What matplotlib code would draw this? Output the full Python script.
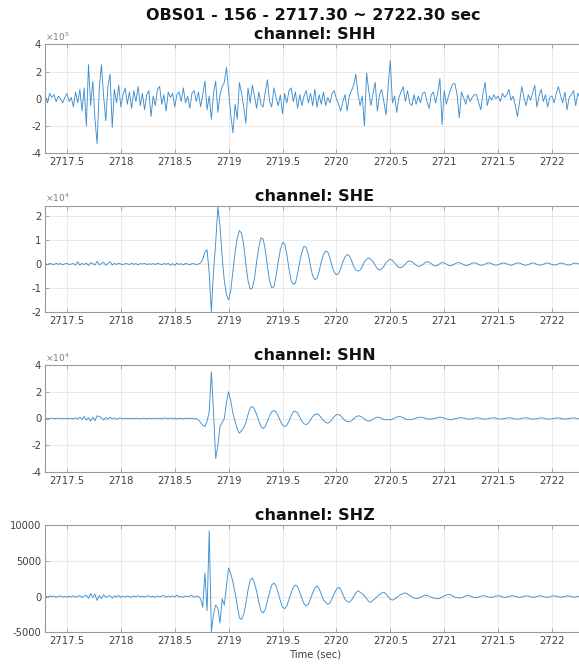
import numpy as np
import matplotlib
matplotlib.use("Agg")
import matplotlib.pyplot as plt

# ---------------- data ----------------
t_start = 2717.30
t_end = 2722.30
dt = 0.02

suptitle = "OBS01 - 156 - 2717.30 ~ 2722.30 sec"
channels = ["SHH", "SHE", "SHN", "SHZ"]

# SHH, units of 1e5
shh = [
    0.2, -0.3, 0.4, 0.1, 0.3, -0.2, 0.2, 0.0, -0.3, 0.1,
    0.4, -0.2, 0.1, -0.6, 0.5, -0.3, 0.7, -0.9, 0.8, -2.0,
    2.5, -0.5, 1.3, -1.5, -3.3, 0.8, 2.5, 0.2, -1.6, 0.9,
    1.8, -2.1, 0.7, -0.3, 1.0, -0.6, 0.3, 0.8, -0.4, 0.5,
    -0.7, 0.6, -0.2, 0.9, -0.5, 0.4, -0.8, 0.3, 0.6, -1.3,
    0.2, -0.5, 0.7, 0.9, -0.4, 0.3, -0.9, 0.5, 0.1, 0.4,
    -0.6, 0.3, 0.5, -0.2, 0.8, -0.3, 0.2, -0.7, 0.4, 0.6,
    -0.2, 0.5, -0.6, 0.3, 1.3, -0.8, 0.2, -1.5, 0.4, 1.3,
    -1.0, 0.3, 0.9, 1.2, 2.3, 0.6, -1.2, -2.5, -0.4, -1.5,
    1.2, 0.4, -0.6, -1.8, 0.8, -0.3, 1.0, 0.2, -0.7, 0.5,
    -0.4, -0.6, 0.5, 1.4, -0.2, -0.6, 0.8, 0.1, -0.5, 0.3,
    -1.1, 0.4, -0.3, 0.6, 0.8, -0.2, 0.5, -0.7, 0.3, -0.5,
    0.2, 0.6, -0.3, 0.4, -0.5, 0.7, -0.6, 0.3, -0.4, 0.5,
    -0.5, 0.1, -0.3, 0.4, 0.6, 0.0, -0.4, -0.9, -0.2, 0.3,
    -0.9, 0.2, 0.6, 1.0, 1.8, 0.4, -0.5, 0.2, -2.0, 1.9,
    0.6, -0.5, 0.4, 1.2, -0.9, 0.3, 0.7, -0.2, -1.2, 0.9,
    2.8, -0.3, 0.2, -1.0, 0.1, 0.5, 0.9, -0.2, 0.6, -0.3,
    -0.5, 0.3, -0.4, 0.2, -0.3, 0.4, 0.5, -0.2, -0.7, 0.3,
    0.5, -0.3, 0.4, 1.5, -1.9, 0.6, -0.4, 0.2, 0.7, 1.1,
    1.1, 0.3, -1.4, 0.5, 0.1, -0.4, 0.3, -0.2, 0.1, 0.3,
    0.3, -0.3, -0.8, 0.4, 1.2, -0.5, 0.2, -0.1, 0.3, 0.0,
    0.2, -0.2, 0.4, 0.1, 0.3, 0.7, -0.1, 0.2, -0.5, -1.3,
    -0.2, 0.9, 0.1, -0.5, 0.3, -0.1, 0.4, 1.0, -0.6, 0.2,
    0.7, -0.2, 0.3, -0.6, 0.1, 0.2, -0.3, 0.4, 0.9, 0.2,
    -0.3, 0.5, -0.8, 0.1, 0.3, 0.6, -0.5, 0.4, 0.1, -0.2,
    0.3,
]

# SHE, units of 1e4
she = [
    0.02, -0.03, 0.03, 0.0, -0.02, 0.03, -0.01, 0.02, -0.03, 0.01,
    0.03, -0.02, 0.0, 0.02, -0.04, 0.1, -0.05, 0.03, -0.02, 0.04,
    -0.06, 0.05, 0.02, -0.04, 0.12, -0.03, 0.02, 0.08, -0.05, 0.02,
    0.1, -0.04, 0.03, -0.02, 0.04, 0.0, -0.03, 0.02, 0.01, -0.02,
    0.03, -0.01, 0.02, -0.03, 0.02, 0.0, 0.03, -0.02, 0.01, -0.01,
    0.02, -0.02, 0.03, 0.0, -0.02, 0.02, -0.01, 0.03, -0.05, 0.02,
    -0.06, 0.04, -0.02, 0.02, -0.04, 0.03, 0.0, -0.03, 0.02, 0.01,
    -0.02, 0.0, 0.05, 0.2, 0.5, 0.6, -0.4, -2.0, -0.3, 0.9,
    2.4, 1.6, 0.3, -0.7, -1.3, -1.5, -1.1, -0.3, 0.5, 1.1,
    1.4, 1.3, 0.8, 0.0, -0.7, -1.05, -1.0, -0.6, 0.1, 0.7,
    1.1, 1.05, 0.6, -0.1, -0.7, -1.0, -0.95, -0.5, 0.1, 0.6,
    0.9, 0.85, 0.4, -0.2, -0.7, -0.85, -0.8, -0.4, 0.1, 0.5,
    0.75, 0.7, 0.4, -0.1, -0.5, -0.65, -0.6, -0.3, 0.1, 0.4,
    0.55, 0.5, 0.25, -0.1, -0.35, -0.45, -0.4, -0.2, 0.1, 0.3,
    0.4, 0.35, 0.15, -0.1, -0.25, -0.3, -0.25, -0.1, 0.1, 0.2,
    0.25, 0.2, 0.1, -0.05, -0.2, -0.25, -0.2, -0.1, 0.05, 0.15,
    0.2, 0.15, 0.05, -0.05, -0.15, -0.15, -0.1, 0.0, 0.1, 0.13,
    0.1, 0.03, -0.05, -0.1, -0.08, -0.03, 0.05, 0.1, 0.08, 0.02,
    -0.05, -0.08, -0.05, 0.02, 0.06, 0.05, 0.0, -0.05, -0.07, -0.04,
    0.01, 0.05, 0.06, 0.03, -0.02, -0.06, -0.05, -0.01, 0.04, 0.05,
    0.03, -0.02, -0.05, -0.04, 0.0, 0.04, 0.05, 0.02, -0.03, -0.05,
    -0.03, 0.01, 0.04, 0.04, 0.01, -0.03, -0.05, -0.02, 0.02, 0.05,
    0.04, 0.0, -0.04, -0.05, -0.02, 0.02, 0.05, 0.03, -0.01, -0.04,
    -0.04, -0.01, 0.03, 0.05, 0.02, -0.02, -0.04, -0.03, 0.01, 0.04,
    0.03, 0.0, -0.03, -0.04, -0.01, 0.03, 0.04, 0.02, -0.02, -0.03,
    0.0,
]

# SHN, units of 1e4
shn = [
    0.02, -0.03, 0.0, 0.03, -0.02, 0.01, 0.03, -0.02, 0.0, 0.02,
    -0.03, 0.02, 0.0, -0.02, 0.05, -0.05, 0.1, -0.08, 0.15, -0.12,
    0.05, -0.2, 0.1, -0.15, 0.2, 0.15, 0.05, -0.12, 0.08, -0.05,
    0.1, -0.03, 0.05, -0.06, 0.02, 0.04, -0.03, 0.02, 0.0, -0.02,
    0.03, -0.02, 0.02, 0.0, -0.03, 0.02, 0.01, -0.02, 0.03, 0.0,
    -0.02, 0.03, -0.01, 0.02, -0.03, 0.04, 0.02, -0.03, 0.05, -0.02,
    0.03, -0.04, 0.02, 0.0, -0.02, 0.03, -0.01, 0.02, 0.0, -0.02,
    0.0, -0.1, -0.3, -0.5, -0.6, -0.2, 0.5, 3.5, 0.5, -3.0,
    -2.0, -0.6, -0.3, 0.0, 1.2, 2.0, 1.3, 0.4, -0.2, -0.8,
    -1.1, -0.9, -0.7, -0.3, 0.3, 0.8, 0.9, 0.7, 0.3, -0.2,
    -0.6, -0.75, -0.6, -0.2, 0.2, 0.5, 0.6, 0.5, 0.2, -0.2,
    -0.5, -0.6, -0.5, -0.2, 0.2, 0.5, 0.55, 0.4, 0.1, -0.2,
    -0.4, -0.45, -0.35, -0.1, 0.15, 0.3, 0.35, 0.25, 0.05, -0.15,
    -0.3, -0.35, -0.25, -0.05, 0.15, 0.28, 0.3, 0.2, 0.0, -0.15,
    -0.22, -0.25, -0.18, -0.02, 0.12, 0.2, 0.18, 0.08, -0.05, -0.15,
    -0.2, -0.15, -0.05, 0.05, 0.1, 0.08, 0.0, -0.06, -0.1, -0.08,
    -0.1, -0.05, 0.03, 0.1, 0.15, 0.12, 0.05, -0.03, -0.08, -0.1,
    -0.07, -0.02, 0.04, 0.08, 0.1, 0.08, 0.03, -0.02, -0.05, -0.04,
    -0.02, 0.03, 0.07, 0.1, 0.08, 0.03, -0.03, -0.08, -0.1, -0.06,
    -0.02, 0.02, 0.05, 0.06, 0.03, -0.01, -0.04, -0.05, -0.02, 0.02,
    0.05, 0.04, 0.0, -0.03, -0.05, -0.03, 0.01, 0.04, 0.05, 0.02,
    -0.02, -0.04, -0.03, 0.0, 0.03, 0.05, 0.03, 0.0, -0.03, -0.05,
    -0.03, 0.01, 0.04, 0.05, 0.02, -0.02, -0.04, -0.04, -0.01, 0.03,
    0.05, 0.03, -0.01, -0.04, -0.05, -0.02, 0.02, 0.04, 0.04, 0.01,
    -0.02, -0.04, -0.03, 0.0, 0.03, 0.04, 0.02, -0.01, -0.03, -0.02,
    0.01,
]

# SHZ, raw counts
shz = [
    50, -80, 100, -30, 60, -100, 40, 80, -60, 30,
    -90, 60, -40, 100, -70, 20, 120, -150, 80, 200,
    -250, 400, -100, 300, -550, 150, -300, 250, -100, 50,
    120, -200, 80, -50, 150, -120, 60, -80, 100, -30,
    -100, 80, -40, 120, -90, 50, -60, 30, 100, -80,
    40, -120, 90, -30, 60, 150, -100, 80, -50, 120,
    -80, 200, -60, 30, -120, 100, -40, 70, 150, -100,
    60, 0, -300, -1500, 3300, -2000, 9200, -4900, -2500, -1200,
    -1600, -3700, -300, -1200, 1500, 4000, 3200, 2000, 500, -1200,
    -3000, -3200, -2500, -1000, 900, 2300, 2600, 1900, 700, -800,
    -2000, -2300, -1800, -600, 600, 1600, 1900, 1500, 500, -600,
    -1500, -1700, -1300, -400, 500, 1300, 1600, 1400, 600, -300,
    -1000, -1300, -1100, -300, 500, 1200, 1500, 1100, 300, -500,
    -800, -1100, -900, -300, 400, 1000, 1300, 1000, 300, -400,
    -700, -800, -500, 0, 500, 800, 600, 400, 100, -300,
    -700, -800, -500, -300, 0, 300, 500, 600, 350, 0,
    -400, -500, -350, -150, 100, 300, 450, 500, 350, 150,
    -50, -200, -300, -250, -100, 50, 200, 150, 50, -100,
    -200, -250, -300, -250, -100, 100, 200, 300, 250, 50,
    -100, -150, -200, -180, -50, 100, 150, 80, -50, -120,
    -150, -60, 50, 120, 80, -30, -100, -130, -50, 60,
    110, 70, -40, -110, -90, 10, 90, 100, 30, -70,
    -120, -60, 40, 100, 60, -30, -100, -80, 20, 90,
    80, 0, -80, -100, -30, 60, 100, 50, -40, -90,
    -60, 20, 90, 70, -10, -80, -70, 10, 70, 60,
    0,
]

series = [shh, she, shn, shz]
ylims = [(-4, 4), (-2, 2.45), (-4, 4), (-5000, 10000)]
yticks = [[-4, -2, 0, 2, 4], [-2, -1, 0, 1, 2], [-4, -2, 0, 2, 4],
          [-5000, 0, 5000, 10000]]
multipliers = [5, 4, 4, None]
xticks = [2717.5, 2718, 2718.5, 2719, 2719.5, 2720, 2720.5, 2721, 2721.5, 2722]
xticklabels = ["2717.5", "2718", "2718.5", "2719", "2719.5", "2720",
               "2720.5", "2721", "2721.5", "2722"]

# ---------------- figure ----------------
W, H = 579, 665
fig = plt.figure(figsize=(W / 100, H / 100), dpi=100)
plt.rcParams['font.family'] = ['DejaVu Sans']

line_color = '#3f8fcf'
axis_color = '#9a9a9a'
text_color = '#404040'

left_px, right_px = 45.4, 584.3
panels_px = [(44.3, 153.3), (205.7, 311.7), (365.0, 472.0), (525.0, 632.3)]

for i, (top, bot) in enumerate(panels_px):
    ax = fig.add_axes([left_px / W, 1 - bot / H, (right_px - left_px) / W,
                       (bot - top) / H])
    y = np.array(series[i], dtype=float)
    t = t_start + dt * np.arange(len(y))
    ax.plot(t, y, color=line_color, lw=0.65)
    ax.set_xlim(t_start, t_end)
    ax.set_ylim(*ylims[i])
    ax.set_xticks(xticks)
    ax.set_xticklabels(xticklabels)
    ax.set_yticks(yticks[i])
    ax.set_yticklabels([str(v) for v in yticks[i]])
    ax.grid(True, color='#e6e6e6', lw=0.6)
    ax.set_axisbelow(True)
    for sp in ax.spines.values():
        sp.set_color(axis_color)
        sp.set_linewidth(0.8)
    ax.tick_params(direction='in', length=3, width=0.6, color=axis_color,
                   labelsize=7.2, labelcolor=text_color, top=True, right=True,
                   pad=3)
    ax.set_title(f"channel: {channels[i]}", fontsize=11.5, fontweight='bold',
                 pad=3.5, color='#111111')
    if multipliers[i] is not None:
        ax.text(0.0, 1.012, r'$\times10^{%d}$' % multipliers[i],
                transform=ax.transAxes, fontsize=6.5, color='#808080',
                ha='left', va='bottom')
    if i == 3:
        ax.set_xlabel("Time (sec)", fontsize=7.2, color=text_color, labelpad=2)

fig.text(313 / W, 1 - 15 / H, suptitle, ha='center', va='center',
         fontsize=11.5, fontweight='bold', color='#111111')

fig.savefig("out.png", dpi=100)
